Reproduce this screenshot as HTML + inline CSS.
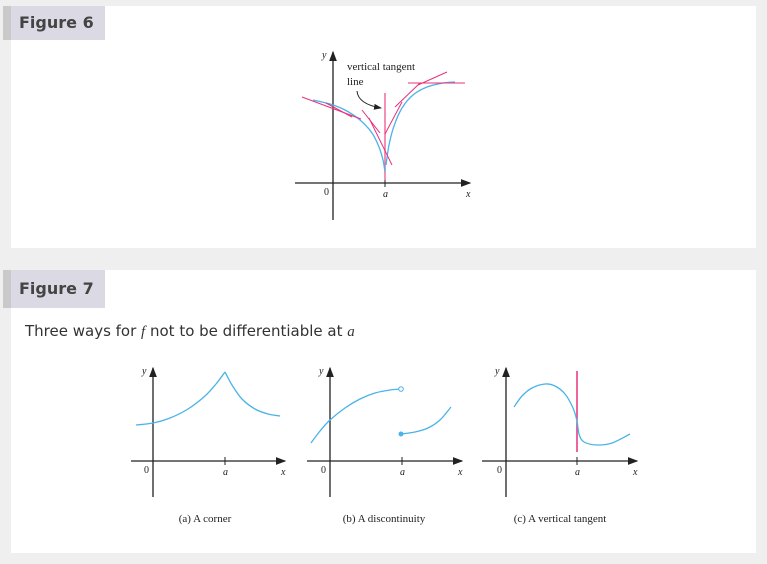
<!DOCTYPE html>
<html><head><meta charset="utf-8">
<style>
html,body{margin:0;padding:0;background:#efefef;width:767px;height:564px;overflow:hidden;font-family:"Liberation Sans",sans-serif}
.inner{position:absolute;left:11px;width:745px;background:#fff}
.title{position:absolute;left:3px;width:102px;height:34px;background:#dbd9e3;border-left:8px solid #c9c9c9;box-sizing:border-box;font-weight:bold;font-size:16px;color:#444;line-height:34px;padding-left:8px;font-family:"DejaVu Sans","Liberation Sans",sans-serif}
svg{position:absolute;left:0;top:0}
.sub{position:absolute;left:25px;top:322px;font-size:15px;color:#333;font-family:"DejaVu Sans","Liberation Sans",sans-serif}
</style></head><body>
<div class="inner" style="top:6px;height:242px"></div>
<div class="title" style="top:6px">Figure 6</div>
<div class="inner" style="top:270px;height:283px"></div>
<div class="title" style="top:270px;height:38px;line-height:38px">Figure 7</div>
<div class="sub">Three ways for <i style="font-family:'Liberation Serif',serif">f</i> not to be differentiable at <i style="font-family:'Liberation Serif',serif">a</i></div>
<svg id="g" width="767" height="564" font-family="Liberation Serif, serif">
<defs><marker id="ar" markerWidth="8" markerHeight="6" refX="7" refY="3" orient="auto"><path d="M0,0 L8,3 L0,6 z" fill="#222"/></marker></defs>
</svg>
<script>
// Figure 6 data
const f6Left=[[313,100],[330,104],[345,110],[360,120],[372,133],[379,147],[383,160],[385,172]];
const f6Right=[[386,165],[389,145],[394,126],[402,108],[413,95],[427,87],[443,83],[455,82]];
const f6Tangents=[[[302,97],[361,119]],[[326,103],[352,117]],[[362,110],[380,133]],[[369,118],[392,165]],[[385,134],[402,102]],[[395,107],[420,83]],[[418,85],[447,72]],[[408,83],[465,83]]];
// Figure 7 data
const f7a=[[136,425],[153,423],[170,418],[188,409],[205,396],[216,384],[225,372]];
const f7a2=[[225,372],[232,385],[242,399],[255,409],[268,414],[280,416]];
const f7b1=[[311,443],[320,431],[330,420],[345,408],[360,399],[375,393],[390,390],[401,389]];
const f7b2=[[401,434],[415,432],[428,428],[440,420],[451,407]];
const f7c=[[514,407],[522,396],[532,388],[545,384],[555,386],[565,394],[573,408],[577,421],[579,434],[584,442],[597,445],[612,443],[630,434]];
const svg=document.getElementById('g');const NS='http://www.w3.org/2000/svg';
function el(t,a){const e=document.createElementNS(NS,t);for(const k in a)e.setAttribute(k,a[k]);svg.appendChild(e);return e;}
function path(p){let d='M'+p[0];for(let i=0;i<p.length-1;i++){const p0=p[i-1]||p[i],p1=p[i],p2=p[i+1],p3=p[i+2]||p2;
 const c1=[p1[0]+(p2[0]-p0[0])/6,p1[1]+(p2[1]-p0[1])/6],c2=[p2[0]-(p3[0]-p1[0])/6,p2[1]-(p3[1]-p1[1])/6];
 d+=' C'+c1+' '+c2+' '+p2;}return d;}
function axes(id,ox,oy,x0,x1,y0,y1,ax){
 let e=el('line',{x1:x0,y1:oy,x2:x1,y2:oy,stroke:'#222','stroke-width':1.3,'marker-end':'url(#ar)'});
 
 
 e=el('line',{x1:ox,y1:y1,x2:ox,y2:y0,stroke:'#222','stroke-width':1.3,'marker-end':'url(#ar)'});
 
 
 el('line',{x1:ax,y1:oy-4,x2:ax,y2:oy+4,stroke:'#222','stroke-width':1});
 const labs=[['y',ox-11,y0+6,'italic'],['0',ox-9,oy+12,'normal'],['a',ax-2,oy+14,'italic'],['x',x1-4,oy+14,'italic']];
 for(const l of labs){const t=el('text',{x:l[1],y:l[2],'font-size':10,'font-style':l[3],fill:'#222'});t.textContent=l[0];
 
 }
}
function curve(id,pts,col){const e=el('path',{d:path(pts),fill:'none',stroke:col||'#4ab3e8','stroke-width':1.3,'stroke-linejoin':'round'});
 
 }
// Fig 6
axes('fig6',333,183,295,470,52,220,385);
let v=el('line',{x1:385,y1:93,x2:385,y2:180,stroke:'#f06a9a','stroke-width':1.5});


curve('fig6-left-curve',f6Left);curve('fig6-right-curve',f6Right);
f6Tangents.forEach((t,i)=>{const e=el('line',{x1:t[0][0],y1:t[0][1],x2:t[1][0],y2:t[1][1],stroke:'#e8317a','stroke-width':1});
 
 });
let ar=el('path',{d:'M357,91 Q358,104 381,108',fill:'none',stroke:'#222','stroke-width':1,'marker-end':'url(#ar)'});


let t1=el('text',{x:347,y:70,'font-size':11,fill:'#222'});t1.textContent='vertical tangent';


let t2=el('text',{x:347,y:85,'font-size':11,fill:'#222'});t2.textContent='line';


// Fig 7a
axes('fig7a',153,461,131,285,368,497,225);curve('corner-curve-left',f7a);curve('corner-curve-right',f7a2);
// Fig 7b
axes('fig7b',330,461,307,462,368,497,402);curve('discontinuity-left-curve',f7b1);curve('discontinuity-right-curve',f7b2);
let c=el('circle',{cx:401,cy:389,r:2.3,fill:'#fff',stroke:'#4ab3e8','stroke-width':1});


c=el('circle',{cx:401,cy:434,r:2.5,fill:'#4ab3e8'});


// Fig 7c
axes('fig7c',506,461,482,637,368,497,577);
v=el('line',{x1:577,y1:371,x2:577,y2:452,stroke:'#e8317a','stroke-width':1.5});


curve('vertical-tangent-curve',f7c);
const caps=[['(a) A corner',205],['(b) A discontinuity',384],['(c) A vertical tangent',560]];
caps.forEach((cp,i)=>{const t=el('text',{x:cp[1],y:522,'font-size':11,'text-anchor':'middle',fill:'#222'});t.textContent=cp[0];
 
 });
</script>
</body></html>
